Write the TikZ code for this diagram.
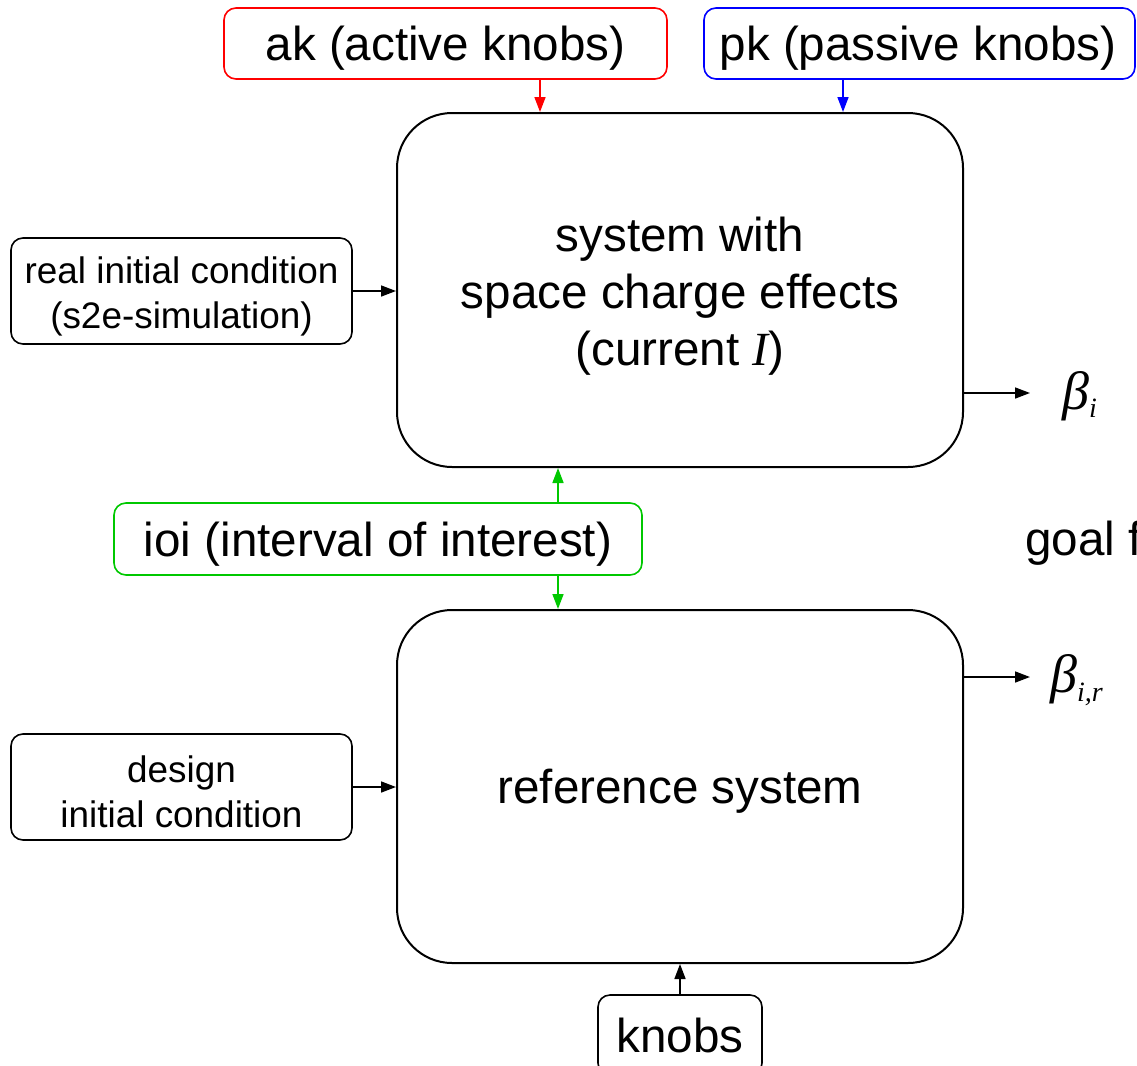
\documentclass[tikz,border=0pt]{standalone}
\usepackage{fontspec}
\setmainfont{Liberation Sans}
\newfontfamily\tms{Liberation Serif}
\usetikzlibrary{arrows.meta,calc}
\definecolor{gr}{RGB}{0,200,0}
\begin{document}
\begin{tikzpicture}[x=1pt,y=-1pt,
  big/.style={font=\fontsize{47.6}{57}\selectfont},
  small/.style={font=\fontsize{36.9}{45}\selectfont},
  txt/.style={inner sep=0pt,align=center},
  sysbox/.style={draw,line width=2pt,rounded corners=55pt,minimum width=566pt,inner sep=0pt},
  inbox/.style={draw,line width=1.6pt,rounded corners=12pt,inner sep=0pt},
  arr/.style={line width=1.6pt,-{Triangle[length=15pt,width=11pt]}},
  betalbl/.style={inner sep=0pt,anchor=west,font=\fontsize{54}{54}\selectfont\tms\itshape}]
\useasboundingbox (0,0) rectangle (1137,1065);
% boxes
\node[inbox,draw=red,minimum width=443pt,minimum height=71pt] (ak) at (445.5,43.5) {};
\node[inbox,draw=blue,minimum width=431pt,minimum height=71pt] (pk) at (919.5,43.5) {};
\node[sysbox,minimum height=354pt] (top) at (680,290) {};
\node[sysbox,minimum height=353pt] (ref) at (680,786.5) {};
\node[inbox,minimum width=341pt,minimum height=106pt] (real) at (181.5,291) {};
\node[inbox,minimum width=341pt,minimum height=106pt] (design) at (181.5,787) {};
\node[inbox,draw=gr,minimum width=528pt,minimum height=72pt] (ioi) at (378,539) {};
\node[inbox,minimum width=164pt,minimum height=80pt] (knobs) at (680,1035) {};
% texts
\node[txt,big] (akt) at ($(ak)+(0,5)$) {ak (active knobs)};
\node[txt,big] (pkt) at (918,48.5) {pk (passive knobs)};
\node[txt,big] (topt) at ($(top)+(0,6)$) {system with\\space charge effects\\(current {\tms\itshape I})};
\node[txt,big] (reft) at ($(ref)+(0,5)$) {reference system};
\node[txt,small] (realt) at ($(real)+(0,5)$) {real initial condition\\(s2e-simulation)};
\node[txt,small] (designt) at ($(design)+(0,5)$) {design\\initial condition};
\node[txt,big] (ioit) at ($(ioi)+(0,5)$) {ioi (interval of interest)};
\node[txt,big] (knobst) at ($(knobs)+(0,0)$) {knobs};
\node[anchor=west,inner sep=0pt,big] (goal) at (1025,543) {goal f};
\node[betalbl] (b1) at (1062,396) {β\raisebox{-0.35ex}{\fontsize{28}{28}\selectfont i}};
\node[betalbl] (b2) at (1050,680) {β\raisebox{-0.35ex}{\fontsize{28}{28}\selectfont i,r}};
% connectors
\coordinate (xa) at (540,0);
\coordinate (xp) at (843,0);
\coordinate (xg) at (558,0);
\coordinate (e1) at (1030,393);
\coordinate (e2) at (1030,677);
\draw[arr,red] (ak.south -| xa) -- (top.north -| xa);
\draw[arr,blue] (pk.south -| xp) -- (top.north -| xp);
\draw[arr,gr] (ioi.north -| xg) -- (top.south -| xg);
\draw[arr,gr] (ioi.south -| xg) -- (ref.north -| xg);
\draw[arr] (real.east) -- (real.east -| top.west);
\draw[arr] (design.east) -- (design.east -| ref.west);
\draw[arr] (top.east |- e1) -- (e1);
\draw[arr] (ref.east |- e2) -- (e2);
\draw[arr] (knobs.north) -- (ref.south -| knobs.north);
\end{tikzpicture}
\end{document}
